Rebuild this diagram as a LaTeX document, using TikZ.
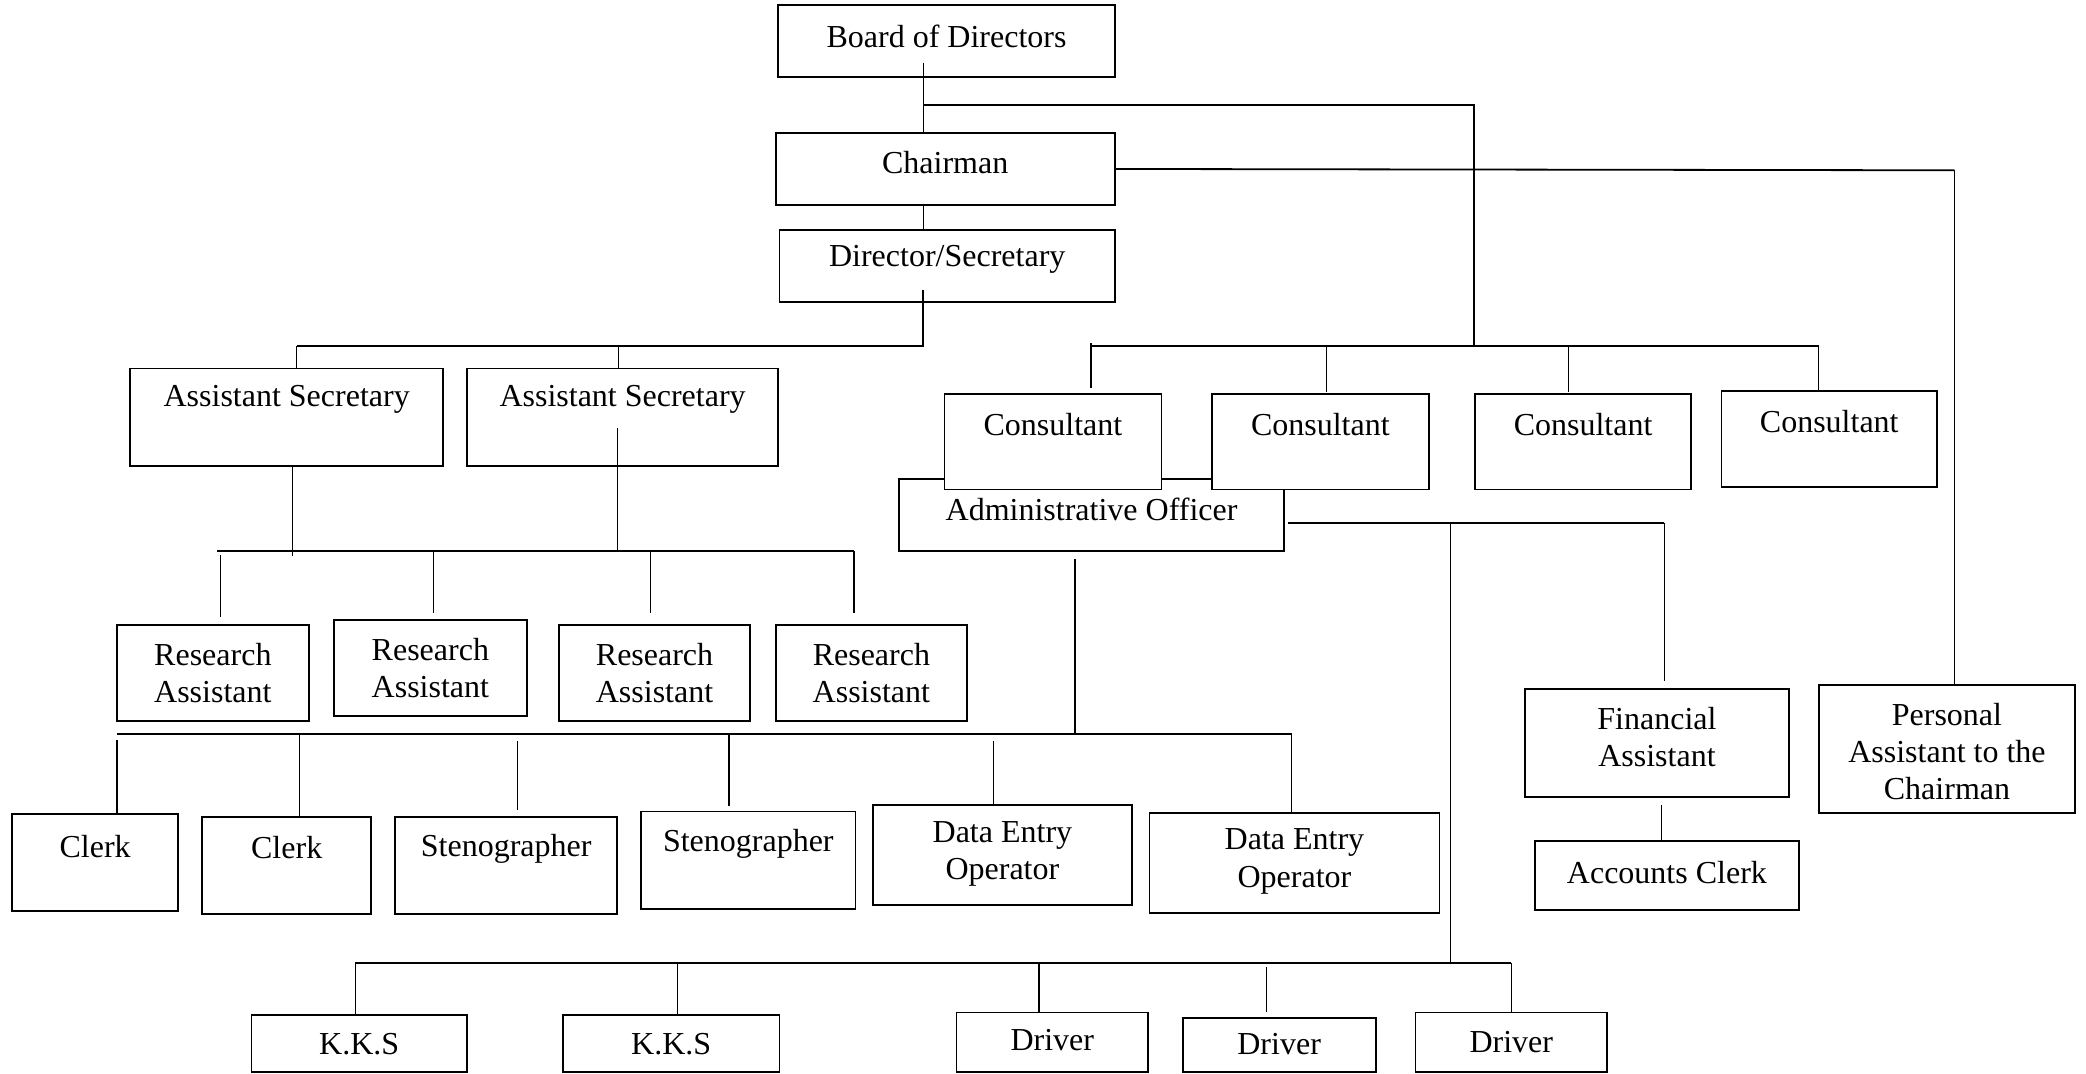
\documentclass[tikz,border=0pt]{standalone}
\usepackage{fontspec}
\setmainfont{Liberation Serif}
\usetikzlibrary{fit,calc}
\tikzset{
 orgbox/.style={draw, line width=0.9pt, fill=white, inner sep=0pt},
 lbl/.style={inner sep=0pt, align=center, font=\fontsize{16}{18.6}\selectfont},
 conn/.style={line width=0.6pt},
 bus/.style={line width=0.9pt},
}
\newcommand{\obox}[7]{%
 \node[orgbox, fit={(#2,#3) (#4,#5)}] (#1) {};
 \node[lbl] (#1-t) at ({(#2+#4)/2},#6) {#7};
}
\begin{document}
\begin{tikzpicture}[x=0.6652pt,y=-0.6652pt]
\useasboundingbox[fill=white] (0,0) rectangle (1568,807);
% top chain
\obox{bod}{585}{4}{838}{58}{27}{Board of Directors}
\obox{chair}{583}{100}{838}{154}{122}{Chairman}
\obox{dir}{586}{173}{838}{227}{195}{Director/Secretary}
% assistant secretaries
\obox{as1}{98}{277}{333}{350}{300}{Assistant Secretary}
\obox{as2}{351}{277}{585}{350}{300}{Assistant Secretary}
% research assistants
\obox{ra1}{88}{470}{232}{542}{506}{Research\\Assistant}
\obox{ra2}{251}{466}{396}{538}{502}{Research\\Assistant}
\obox{ra3}{420}{470}{564}{542}{506}{Research\\Assistant}
\obox{ra4}{583}{470}{727}{542}{506}{Research\\Assistant}
% administrative officer (behind consultants)
\obox{ao}{676}{360}{965}{414}{383}{Administrative Officer}
% consultants
\obox{c1}{710}{296}{873}{368}{319}{Consultant}
\obox{c2}{911}{296}{1074}{368}{319}{Consultant}
\obox{c3}{1109}{296}{1271}{368}{319}{Consultant}
\obox{c4}{1294}{294}{1456}{366}{317}{Consultant}
% clerks row
\obox{cl1}{9}{612}{134}{685}{636}{Clerk}
\obox{cl2}{152}{614}{279}{687}{637}{Clerk}
\obox{st1}{297}{614}{464}{687}{638}{Stenographer}
\obox{st2}{482}{610}{643}{683}{634}{Stenographer}
\obox{de1}{656}{605}{851}{680}{642}{Data Entry\\Operator}
\obox{de2}{864}{611}{1082}{686}{647.5}{Data Entry\\Operator}
% finance and PA
\obox{fa}{1146}{518}{1345}{599}{554}{Financial\\Assistant}
\obox{ac}{1154}{632}{1352}{684}{656}{Accounts Clerk}
\obox{pa}{1367}{515}{1560}{611}{565}{Personal\\Assistant to the\\Chairman}
% bottom row
\obox{kk1}{189}{763}{351}{806}{785}{K.K.S}
\obox{kk2}{423}{763}{586}{806}{785}{K.K.S}
\obox{dr1}{719}{761}{863}{806}{782}{Driver}
\obox{dr2}{889}{765}{1034}{806}{785}{Driver}
\obox{dr3}{1064}{761}{1208}{806}{783}{Driver}

% ---- connectors ----
\coordinate (jb) at (694,79);
\coordinate (jc) at (1108,260);
\coordinate (jd) at (694,260);
\coordinate (jr) at (464,414);
\coordinate (jp) at (1469,128);
\coordinate (ja) at (1090,393);
\coordinate (jk) at (1090,724);
\coordinate (jl) at (808,552);

\draw[conn] (694,47) -- (chair.north -| jb);
\draw[bus] (jb) -- (jb -| jc) -- (jc);
\draw[bus] (chair.east) -- (jp);
\draw[conn] (jp) -- (pa.north -| jp);
\draw[conn] (chair.south -| jb) -- (dir.north -| jb);
\draw[bus] (694,218) -- (jd) -- (223,260);
\draw[conn] (223,260) -- (as1.north -| 223,0);
\draw[conn] (465,260) -- (as2.north -| 465,0);

% research bus
\draw[conn] (as1.south -| 220,0) -- (220,418);
\draw[conn] (464,322) -- (jr);
\draw[bus] (163,414) -- (642,414);
\draw[conn] (166,417) -- (166,464);
\draw[conn] (326,414) -- (326,461);
\draw[conn] (489,414) -- (489,461);
\draw[conn] (642,414) -- (642,461);

% consultants bus
\draw[bus] (820,260) -- (1367,260);
\draw[conn] (820,258) -- (820,292);
\draw[conn] (997,260) -- (997,295);
\draw[conn] (1179,260) -- (1179,295);
\draw[conn] (1367,260) -- (1367,294);

% admin officer right
\draw[bus] (968,393) -- (1251,393);
\draw[conn] (1251,393) -- (1251,512);
\draw[conn] (ja) -- (jk);
\draw[conn] (1249,605) -- (ac.north -| 1249,0);

% admin officer bottom -> clerks
\draw[conn] (808,420) -- (jl);
\draw[bus] (88,552) -- (971,552);
\draw[conn] (88,556) -- (88,612);
\draw[conn] (225,552) -- (225,615);
\draw[conn] (389,557) -- (389,609);
\draw[conn] (548,552) -- (548,606);
\draw[conn] (747,557) -- (747,604);
\draw[conn] (971,552) -- (971,610);

% KKS / drivers bus
\draw[bus] (267,724) -- (1136,724);
\draw[conn] (267,724) -- (kk1.north -| 267,0);
\draw[conn] (509,724) -- (kk2.north -| 509,0);
\draw[conn] (781,724) -- (dr1.north -| 781,0);
\draw[conn] (952,727) -- (952,761);
\draw[conn] (1136,724) -- (dr3.north -| 1136,0);
\end{tikzpicture}
\end{document}
